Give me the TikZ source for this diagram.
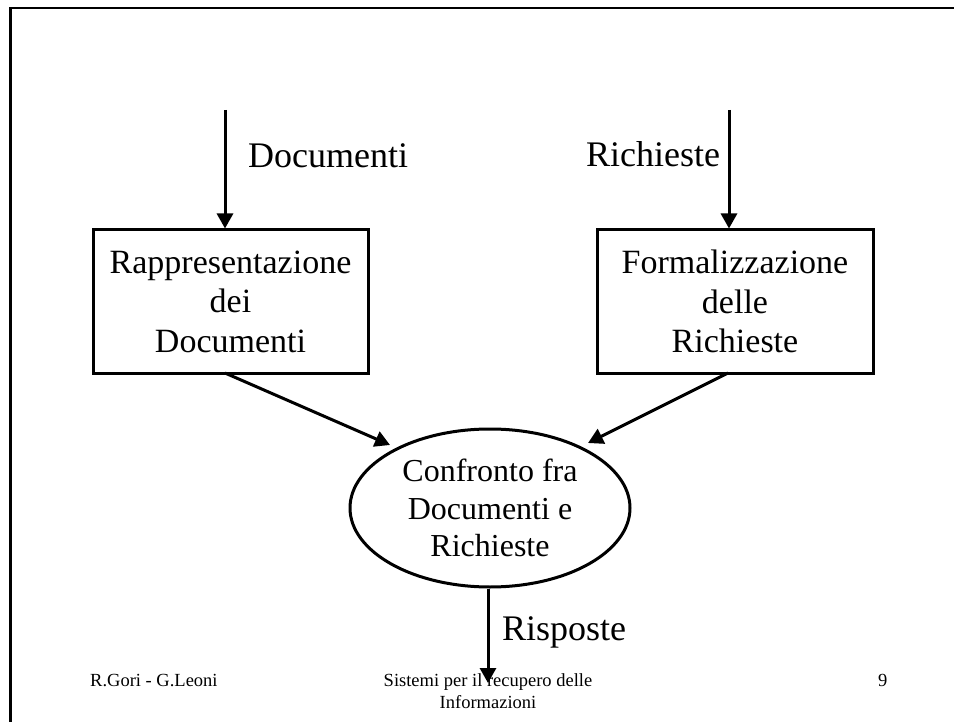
\documentclass[tikz,border=0pt]{standalone}
\usepackage{fontspec}
\setmainfont{Liberation Serif}
\usetikzlibrary{arrows.meta,shapes.geometric}
\begin{document}
\begin{tikzpicture}[x=1pt,y=-1pt,
  arr/.style={line width=3pt,-{Triangle[length=15pt,width=16pt]}},
  boxnode/.style={draw,line width=3pt,minimum width=275pt,minimum height=143pt,align=center,inner sep=0pt,font=\fontsize{34}{39.5}\selectfont},
  ellnode/.style={draw,ellipse,line width=3pt,minimum width=280pt,minimum height=158pt,align=center,inner sep=0pt,font=\fontsize{32}{37.7}\selectfont},
  lbl/.style={inner sep=0pt,anchor=base west,font=\fontsize{36}{43}\selectfont},
  foot/.style={inner sep=0pt,font=\fontsize{18.5}{22}\selectfont}]
\useasboundingbox (0,0) rectangle (954,722);
% frame
\draw[line width=2.7pt] (954,8) -- (10.7,8) -- (10.7,722);
% nodes
\node[boxnode] (rep) at (230.5,301.5) {Rappresentazione\\dei\\Documenti};
\node[boxnode,minimum width=276pt] (form) at (735,301.5) {Formalizzazione\\delle\\Richieste};
\node[ellnode] (conf) at (490,508) {Confronto fra\\Documenti e\\Richieste};
% labels
\node[lbl] (ldoc) at (248,168) {Documenti};
\node[lbl] (lric) at (586,167) {Richieste};
\node[lbl] (lris) at (502,640) {Risposte};
% connectors
\coordinate (dtop) at (225,110);
\coordinate (rtop) at (729,110);
\draw[arr] (dtop) -- (dtop |- rep.north);
\draw[arr] (rtop) -- (rtop |- form.north);
\coordinate (repout) at (225,373);
\coordinate (formout) at (728,373);
\coordinate (confinl) at (390,445);
\coordinate (confinr) at (588,443);
\draw[arr] (repout) -- (confinl);
\draw[arr] (formout) -- (confinr);
\coordinate (outend) at (488,683);
\draw[arr] (outend |- conf.south) -- (outend);
% footer
\node[foot,anchor=base west] (fl) at (90,686) {R.Gori - G.Leoni};
\node[foot,anchor=base] (fc1) at (488,686) {Sistemi per il recupero delle};
\node[foot,anchor=base] (fc2) at (488,708) {Informazioni};
\node[foot,anchor=base west] (fr) at (878,686) {9};
\end{tikzpicture}
\end{document}
